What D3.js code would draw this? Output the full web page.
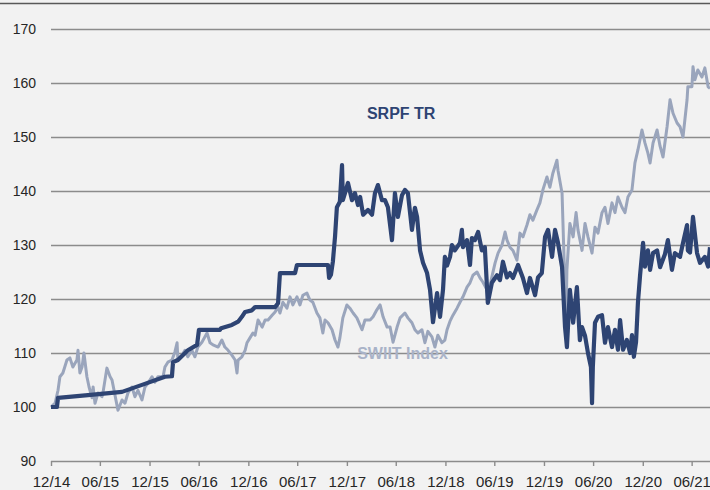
<!DOCTYPE html>
<html>
<head>
<meta charset="utf-8">
<script src="https://cdn.jsdelivr.net/npm/d3@7"></script>
<style>
  body { margin: 0; background: #f2f2f2; }
  #chart { width: 710px; height: 490px; }
  text { font-family: "Liberation Sans", Arial, sans-serif; }
</style>
</head>
<body>
<div id="chart"></div>
<script>
// SRPF TR (dark line)
let srpfDates = ["2014-12-31","2015-01-22","2015-01-26","2015-05-17","2015-09-20","2015-12-03","2016-02-26","2016-03-23","2016-03-27","2016-04-14",
  "2016-05-21","2016-06-24","2016-07-01","2016-09-17","2016-09-21","2016-10-31","2016-11-23","2016-12-07","2016-12-19","2017-01-13",
  "2017-01-25","2017-04-09","2017-04-20","2017-04-27","2017-06-22","2017-06-29","2017-10-22","2017-10-26","2017-11-02","2017-11-09",
  "2017-11-17","2017-11-24","2017-12-05","2017-12-13","2017-12-16","2017-12-24","2018-01-04","2018-01-19","2018-01-30","2018-02-10",
  "2018-02-18","2018-03-01","2018-03-19","2018-04-03","2018-04-14","2018-04-25","2018-05-10","2018-05-21","2018-06-01","2018-06-16",
  "2018-06-27","2018-07-08","2018-07-23","2018-08-03","2018-08-14","2018-08-29","2018-09-09","2018-09-17","2018-09-28","2018-10-09",
  "2018-10-24","2018-11-04","2018-11-15","2018-11-30","2018-12-11","2018-12-22","2018-12-29","2019-01-06","2019-01-17","2019-01-24",
  "2019-02-04","2019-02-23","2019-03-02","2019-03-06","2019-03-21","2019-04-01","2019-04-08","2019-04-19","2019-05-01","2019-05-15",
  "2019-05-26","2019-06-06","2019-06-21","2019-07-10","2019-07-21","2019-08-01","2019-08-16","2019-08-27","2019-09-07","2019-09-26",
  "2019-10-14","2019-10-29","2019-11-09","2019-11-28","2019-12-09","2019-12-23","2020-01-04","2020-01-15","2020-01-30","2020-02-10",
  "2020-02-21","2020-03-07","2020-03-18","2020-03-25","2020-04-05","2020-04-17","2020-05-01","2020-05-12","2020-05-20","2020-05-31",
  "2020-06-11","2020-06-22","2020-06-26","2020-06-29","2020-07-07","2020-07-18","2020-08-02","2020-08-13","2020-08-24","2020-09-08",
  "2020-09-19","2020-09-30","2020-10-08","2020-10-19","2020-11-02","2020-11-14","2020-11-21","2020-11-28","2020-12-06","2020-12-13",
  "2020-12-21","2021-01-01","2021-01-08","2021-01-19","2021-01-27","2021-02-07","2021-02-22","2021-03-05","2021-03-23","2021-04-03",
  "2021-04-18","2021-04-29","2021-05-18","2021-05-29","2021-06-13","2021-06-16","2021-06-24","2021-07-05","2021-07-20","2021-07-31",
  "2021-08-18","2021-08-30","2021-09-06"];
let srpfValues = [100,100,101.7,102.2,102.8,104.1,105.6,105.7,108.3,108.7,
  110.5,111.5,114.3,114.3,114.6,115.2,115.8,116.7,117.6,117.9,
  118.5,118.5,119.2,124.8,124.8,126.3,126.3,123.9,124.5,126.9,
  131.5,137,138,144.8,138.3,139.6,141.5,138.3,139.6,137.4,
  138.9,135.6,136.5,135.6,139.6,141.1,138.3,138.3,137,130.9,
  139.6,135.2,139.2,140.2,139.6,132.8,136.9,135.2,129,126.7,
  124.8,121.7,115.7,121.1,116.7,121.7,127.8,126.2,127.8,130,
  129,130.4,132.8,129.6,130.9,126.3,131.3,130.9,132.4,129,
  129.6,119.3,123,124.4,123.5,126.9,124,124.8,123.9,126.3,
  123.9,121.1,123.9,120.7,124,124.8,131.5,132.8,127.8,132.8,
  130.4,125.9,114.8,111.1,121.7,115.6,122.2,112.4,114.8,113.2,
  110,107.4,100.7,107.4,115.6,116.7,117,111.9,114.8,111.1,
  114.3,110.6,116.1,110.6,112.4,110,113.3,109.3,112,119.3,
  124.4,130.4,126,129,125.4,128.5,129,125.9,128.3,130.9,
  125.4,128.5,127.8,130.4,133.7,129,128.6,135.2,128.5,126.7,
  127.8,126,129.6];

// SWIIT Index (light line)
let swiitDates = ["2014-12-31","2015-01-15","2015-01-26","2015-02-02","2015-02-13","2015-02-28","2015-03-11","2015-03-22","2015-04-06","2015-04-10",
  "2015-04-17","2015-04-25","2015-05-02","2015-05-13","2015-05-21","2015-06-01","2015-06-05","2015-06-12","2015-06-23","2015-07-08",
  "2015-07-12","2015-07-26","2015-08-07","2015-08-14","2015-08-25","2015-09-05","2015-09-20","2015-10-01","2015-10-12","2015-10-27",
  "2015-11-07","2015-11-18","2015-12-03","2015-12-14","2015-12-25","2016-01-09","2016-01-20","2016-01-31","2016-02-19","2016-02-26",
  "2016-03-08","2016-03-23","2016-04-03","2016-04-11","2016-04-14","2016-04-29","2016-05-10","2016-05-21","2016-06-05","2016-06-16",
  "2016-06-27","2016-07-12","2016-07-31","2016-08-11","2016-08-22","2016-09-10","2016-09-24","2016-10-05","2016-10-17","2016-10-31",
  "2016-11-12","2016-11-19","2016-11-23","2016-12-07","2016-12-19","2016-12-26","2017-01-06","2017-01-17","2017-01-25","2017-02-05",
  "2017-02-20","2017-03-03","2017-03-14","2017-03-29","2017-04-09","2017-04-20","2017-04-27","2017-05-08","2017-05-23","2017-06-03",
  "2017-06-14","2017-06-29","2017-07-10","2017-07-21","2017-08-05","2017-08-16","2017-08-27","2017-09-11","2017-09-22","2017-10-03",
  "2017-10-11","2017-10-22","2017-11-06","2017-11-17","2017-11-28","2017-12-05","2017-12-16","2017-12-31","2018-01-11","2018-01-23",
  "2018-02-06","2018-02-25","2018-03-08","2018-03-27","2018-04-07","2018-04-21","2018-05-03","2018-05-14","2018-05-29","2018-06-09",
  "2018-06-20","2018-07-05","2018-07-16","2018-08-03","2018-08-14","2018-08-29","2018-09-09","2018-09-20","2018-10-05","2018-10-16",
  "2018-10-27","2018-11-11","2018-11-22","2018-12-03","2018-12-18","2018-12-29","2019-01-06","2019-01-17","2019-01-28","2019-02-12",
  "2019-02-23","2019-03-06","2019-03-21","2019-04-01","2019-04-12","2019-04-27","2019-05-08","2019-05-19","2019-06-03","2019-06-06",
  "2019-06-21","2019-07-03","2019-07-14","2019-07-28","2019-08-09","2019-08-16","2019-08-27","2019-09-07","2019-09-22","2019-10-03",
  "2019-10-14","2019-10-29","2019-11-09","2019-11-20","2019-12-05","2019-12-16","2019-12-27","2020-01-11","2020-01-22","2020-02-02",
  "2020-02-17","2020-02-21","2020-03-07","2020-03-14","2020-03-22","2020-03-25","2020-04-05","2020-04-17","2020-04-28","2020-05-05",
  "2020-05-20","2020-05-31","2020-06-11","2020-06-26","2020-07-07","2020-07-18","2020-08-02","2020-08-13","2020-08-24","2020-09-08",
  "2020-09-19","2020-09-30","2020-10-15","2020-10-26","2020-11-06","2020-11-21","2020-12-02","2020-12-13","2020-12-28","2021-01-08",
  "2021-01-19","2021-01-27","2021-02-07","2021-02-22","2021-03-05","2021-03-16","2021-03-31","2021-04-11","2021-04-22","2021-05-07",
  "2021-05-18","2021-05-29","2021-06-13","2021-06-16","2021-07-01","2021-07-05","2021-07-12","2021-07-23","2021-08-07","2021-08-18",
  "2021-08-30","2021-09-06"];
let swiitValues = [100,100.7,103.1,105.6,106.3,108.7,109.1,107.4,108.7,110.5,
  106.3,107.4,110,105.6,103.7,101.7,103.7,100.7,102.6,101.9,
  102.8,107.2,105.6,105,102.2,99.4,101.3,100.7,102.6,103.7,
  101.9,103.1,101.3,103.7,104.4,105.6,104.6,105.6,105.6,107.4,
  108.3,108.7,110.2,111.9,108.7,109.6,110.5,109.3,110.5,109.3,
  111.1,112,113.7,111.9,111.5,111.1,112.4,111.1,110.5,109.6,
  108.7,106.3,108.7,109.3,110.5,111.9,112.8,113.7,113.3,116.1,
  114.8,116.1,116.1,117,117.6,118.5,117.4,119.4,118.3,120.4,
  118.9,120.4,118.9,120.7,121.1,119.8,119.4,117.4,116.5,113.7,
  116.1,115.6,114.3,112.4,111.1,112.8,116.5,118.9,118.3,117.4,
  116.5,114.3,116.1,116.1,116.7,118,118.9,116.7,114.8,114.8,
  112,114.8,116.5,117.4,116.5,115.6,114.3,113.7,114.3,111.9,
  114,113,111.1,113.3,111.9,112.4,114.3,115.9,117,118.3,
  119.4,120.4,122.2,123,124.4,125,123.9,123.1,121.7,120.4,
  124.1,126.7,128.5,129.9,132.4,130.9,129.6,129,127.2,132.2,
  131.5,133.7,135.6,134.6,136.5,137.8,140.2,142.6,140.7,143.3,
  145.7,143.8,139.6,128,116.7,125.4,134,131.5,136,132.8,
  129,134,131.5,128.5,133.3,132.2,136,137,134,137.8,
  136,138.9,137,136,138.9,140.2,145.2,147.6,151.3,148.9,
  147,145.2,148.9,151.3,148.3,146.3,151.9,156.9,154.4,152.6,
  151.9,150,156.9,159.3,159.3,163,160.6,162.4,161.1,162.8,
  159.3,159];

let yTicks = [90, 100, 110, 120, 130, 140, 150, 160, 170];
let xTickDates = ["2014-12-31","2015-06-30","2015-12-31","2016-06-30","2016-12-31","2017-06-30","2017-12-31",
  "2018-06-30","2018-12-31","2019-06-30","2019-12-31","2020-06-30","2020-12-31","2021-06-30"];
let xTickLabels = ["12/14","06/15","12/15","06/16","12/16","06/17","12/17","06/18","12/18","06/19","12/19","06/20","12/20","06/21"];

let parse = d3.timeParse("%Y-%m-%d");
let margin = {top: 29, right: 0, left: 51, bottom: 29};
let width = 710, height = 490;

let svg = d3.select("#chart").append("svg")
    .attr("width", width).attr("height", height);

svg.append("rect").attr("width", width).attr("height", height).attr("fill", "#f2f2f2");
svg.append("line").attr("x1", 0).attr("x2", width).attr("y1", 3.5).attr("y2", 3.5)
    .attr("stroke", "#595959").attr("stroke-width", 1.5);

let xScale = d3.scaleTime()
    .domain([parse("2014-12-31"), parse("2021-09-06")])
    .range([margin.left, width - margin.right]);
let yScale = d3.scaleLinear().domain([90, 170]).range([height - margin.bottom, margin.top]);

// gridlines + y labels
let yAxis = d3.axisLeft(yScale).tickValues(yTicks).tickSize(-(width - margin.left)).tickPadding(15);
let gy = svg.append("g").attr("transform", "translate(" + margin.left + ",0)").call(yAxis);
gy.select(".domain").remove();
gy.selectAll("line").attr("stroke", "#8c8c8c").attr("stroke-width", 1.4);
gy.selectAll("text").attr("fill", "#262626").style("font-size", "14px");

// x ticks
let xAxis = d3.axisBottom(xScale).tickValues(xTickDates.map(parse))
    .tickFormat((d, i) => xTickLabels[i]).tickSize(5).tickPadding(10);
let gx = svg.append("g").attr("transform", "translate(0," + (height - margin.bottom) + ")").call(xAxis);
gx.select(".domain").remove();
gx.selectAll("line").attr("stroke", "#8c8c8c").attr("stroke-width", 1.4);
gx.selectAll("text").attr("fill", "#262626").style("font-size", "15px");

// series labels
svg.append("text").attr("x", xScale(parse("2018-07-25"))).attr("y", 359)
    .attr("text-anchor", "middle").attr("fill", "#a9b3c8")
    .style("font-size", "16px").style("font-weight", "bold").text("SWIIT Index");
svg.append("text").attr("x", xScale(parse("2018-07-20"))).attr("y", 119)
    .attr("text-anchor", "middle").attr("fill", "#2e4473")
    .style("font-size", "16px").style("font-weight", "bold").text("SRPF TR");

let line = d3.line().x(d => xScale(d.date)).y(d => yScale(d.value));
let swiit = swiitDates.map((d, i) => ({date: parse(d), value: swiitValues[i]}));
let srpf = srpfDates.map((d, i) => ({date: parse(d), value: srpfValues[i]}));

svg.append("path").datum(swiit).attr("d", line)
    .attr("fill", "none").attr("stroke", "#9aa5bc").attr("stroke-width", 3)
    .attr("stroke-linejoin", "round");
svg.append("path").datum(srpf).attr("d", line)
    .attr("fill", "none").attr("stroke", "#2e4473").attr("stroke-width", 4.2)
    .attr("stroke-linejoin", "round");
</script>
</body>
</html>
